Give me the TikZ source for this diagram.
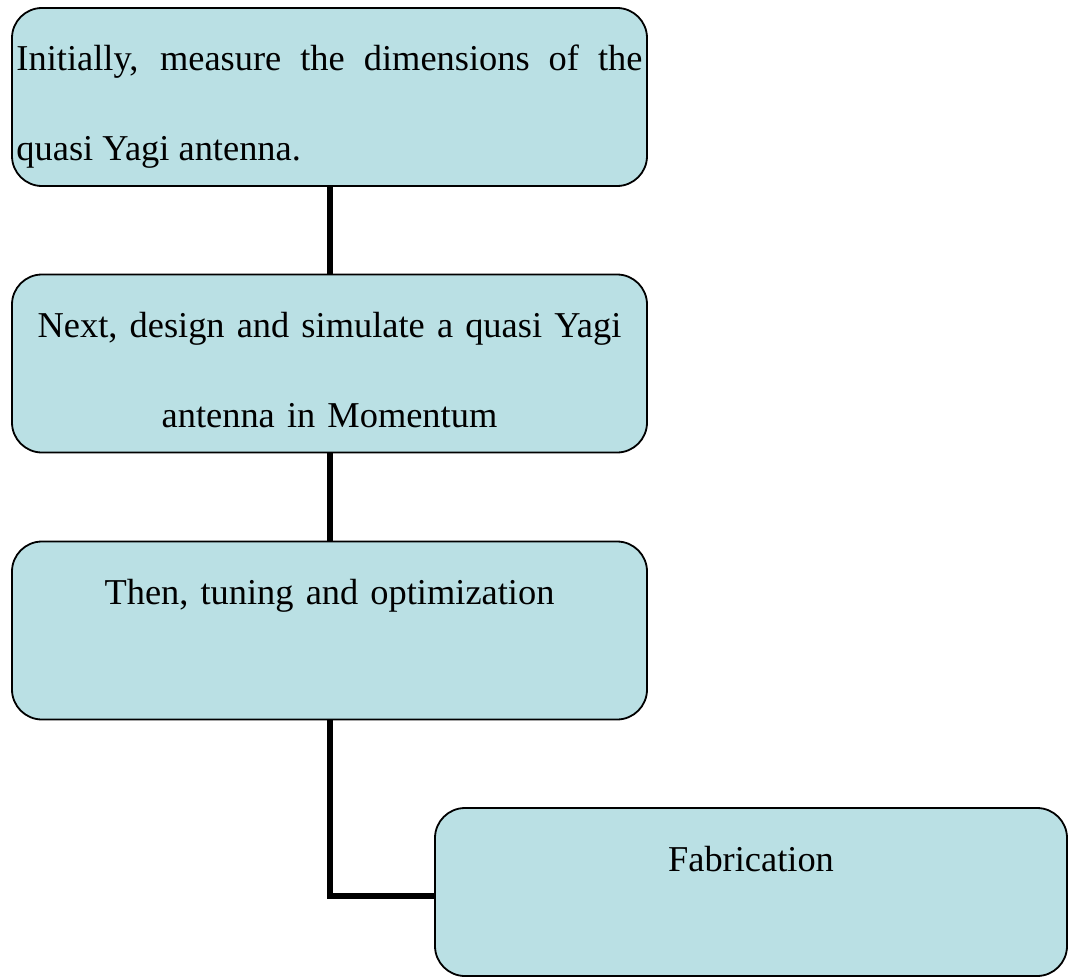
\documentclass[tikz,border=0pt]{standalone}
\usepackage{fontspec}
\setmainfont{Liberation Serif}
\usepackage{tikz}
\usetikzlibrary{positioning}
\definecolor{aquabox}{RGB}{186,224,228}
\tikzstyle{stepbox} = [draw, line width=0.9pt, fill=aquabox, rounded corners=15pt,
minimum width=317.5pt, minimum height=89pt, inner sep=0pt]
\tikzstyle{steptext} = [text width=313pt, inner sep=0pt, anchor=base,
font=\fontsize{18.2}{45}\selectfont]
\tikzstyle{line} = [draw, line width=3pt]

\begin{document}
\begin{tikzpicture}[x=0.5pt, y=-0.5pt]
	\useasboundingbox (0,0) rectangle (1069,979);
	% Place nodes
	\node [stepbox] (b1) at (329.5,97) {};
	\node [stepbox, below of=b1, node distance=133.25pt] (b2) {};
	\node [stepbox, below of=b2, node distance=133.5pt] (b3) {};
	\node [stepbox, below of=b3, node distance=130.75pt, xshift=210.75pt,
	minimum width=316pt, minimum height=84pt] (b4) {};
	
	% Texts
	\node [steptext, align=justify] (t1) at ([yshift=-31.75pt]b1.north)
	{Initially, measure the dimensions of the\linebreak quasi Yagi antenna.};
	\node [steptext, align=center] (t2) at ([yshift=-32pt]b2.north)
	{Next, design and simulate a quasi Yagi\\antenna in Momentum};
	\node [steptext, align=center] (t3) at ([yshift=-32pt]b3.north)
	{Then, tuning and optimization};
	\node [steptext, align=center] (t4) at ([yshift=-32pt]b4.north)
	{Fabrication};
	
	\path [line] (b1) -- (b2);
	\path [line] (b2) -- (b3);
	\path [line] (b3) |- ([yshift=-2pt]b4.west);
\end{tikzpicture}
\end{document}
